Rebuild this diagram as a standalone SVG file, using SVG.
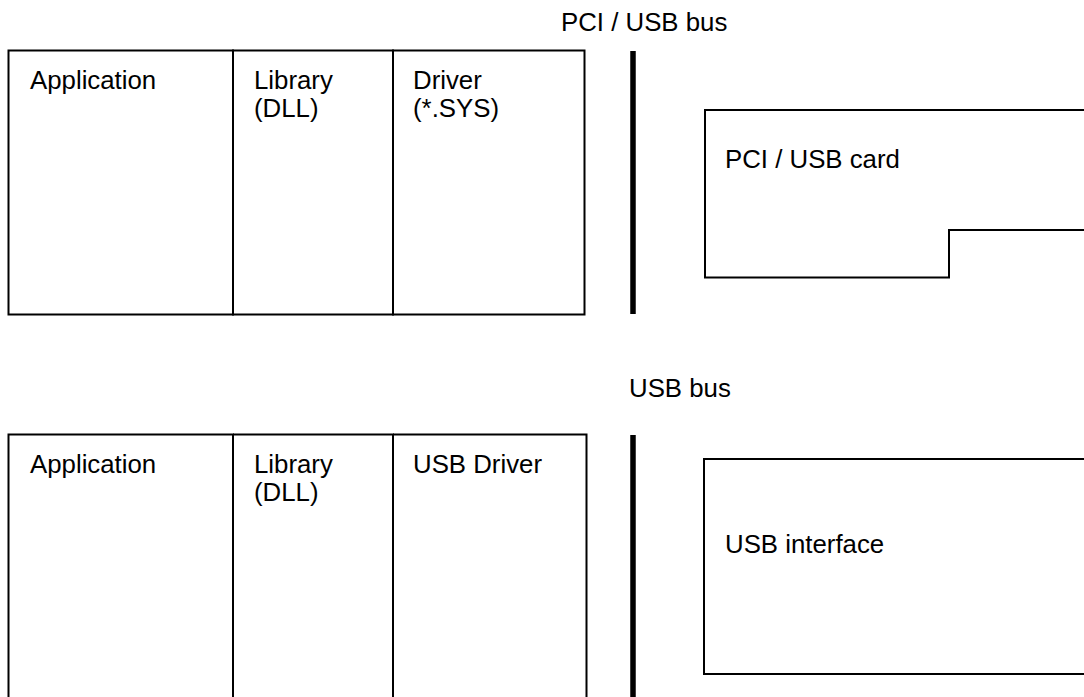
<svg xmlns="http://www.w3.org/2000/svg" width="1084" height="697" viewBox="0 0 1084 697">
<style>
.b{fill:none;stroke:#000;stroke-width:2}
.bus{stroke:#000;stroke-width:5.5}
text{font-family:"Liberation Sans",Arial,sans-serif;font-size:25.8px;fill:#000}
</style>
<rect width="1084" height="697" fill="#fff"/>
<g id="top-stack">
<g id="app1"><rect class="b" x="8.5" y="50.5" width="224.5" height="264"/><text x="30" y="88.5">Application</text></g>
<g id="lib1"><rect class="b" x="233" y="50.5" width="160" height="264"/><text x="254" y="88.5">Library</text><text x="254" y="117">(DLL)</text></g>
<g id="drv1"><rect class="b" x="393" y="50.5" width="191.5" height="264"/><text x="413" y="88.5">Driver</text><text x="413" y="117">(*.SYS)</text></g>
</g>
<g id="bus1"><line class="bus" x1="633" y1="51" x2="633" y2="314"/><text x="561" y="31">PCI / USB bus</text></g>
<g id="card"><path class="b" d="M1090 110 H705 V277.5 H949 V230 H1090"/><text x="725" y="168">PCI / USB card</text></g>
<g id="bottom-stack">
<g id="app2"><path class="b" d="M8.5 700 V434.5 H233 V700"/><text x="30" y="472.5">Application</text></g>
<g id="lib2"><path class="b" d="M233 434.5 H393 V700"/><text x="254" y="472.5">Library</text><text x="254" y="501">(DLL)</text></g>
<g id="drv2"><path class="b" d="M393 434.5 H586.5 V700"/><text x="413" y="472.5">USB Driver</text></g>
</g>
<g id="bus2"><line class="bus" x1="633" y1="435" x2="633" y2="700"/><text x="629" y="397">USB bus</text></g>
<g id="usbif"><path class="b" d="M1090 459 H704 V674 H1090"/><text x="725" y="553">USB interface</text></g>
<g id="connectors"></g>
</svg>
